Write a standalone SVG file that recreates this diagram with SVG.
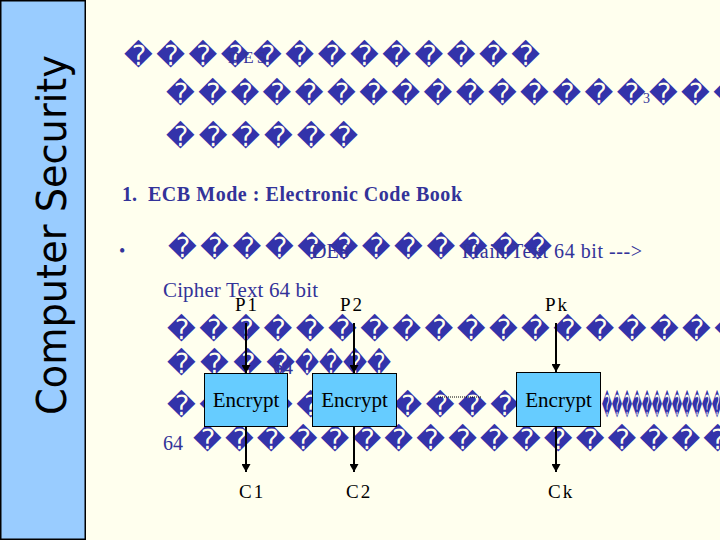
<svg xmlns="http://www.w3.org/2000/svg" width="720" height="540" viewBox="0 0 720 540">
<defs>
<style>
.tofu{font-family:"DejaVu Sans",sans-serif;font-size:28px;fill:#3333AA;dominant-baseline:central}
.lbl{font-family:"Liberation Serif",serif;fill:#333399}
.blk{font-family:"Liberation Serif",serif;fill:#000;font-size:19px;letter-spacing:2px}
.enc rect{fill:#66CCFF;stroke:#000;stroke-width:1}
.enc text{font-family:"Liberation Serif",serif;font-size:21px;fill:#000;text-anchor:middle}
.conn line{stroke:#000;stroke-width:2;marker-end:url(#ah)}
</style>
<marker id="ah" markerUnits="userSpaceOnUse" markerWidth="9" markerHeight="9" refX="8" refY="4.5" orient="auto">
<path d="M0,0 L8,4.5 L0,9 z" fill="#000"/>
</marker>
</defs>
<rect x="0" y="0" width="720" height="540" fill="#FFFFEE"/>
<g id="sidebar">
<rect x="0.75" y="0.75" width="84.5" height="538.5" fill="#99CCFF" stroke="#000" stroke-width="1.5"/>
<text transform="translate(66,235) rotate(-90)" text-anchor="middle" font-family="DejaVu Sans, sans-serif" font-size="40" textLength="360" lengthAdjust="spacingAndGlyphs" fill="#000">Computer Security</text>
</g>
<g id="title">
<text class="tofu" x="124" y="55" textLength="416">�������������</text>
<text class="lbl" x="228" y="63" font-size="17" letter-spacing="3" fill="#333366">DES</text>
<text class="tofu" x="166" y="93" textLength="576">������������������</text>
<text class="lbl" x="643" y="103" font-size="14">3</text>
<text class="tofu" x="166" y="136" textLength="192">������</text>
</g>
<g id="heading">
<text class="lbl" x="122" y="201" font-size="20" font-weight="bold">1.</text>
<text class="lbl" x="148" y="201" font-size="20" font-weight="bold" textLength="314">ECB Mode : Electronic Code Book</text>
</g>
<g id="bullet">
<text class="lbl" x="119" y="257" font-size="18">•</text>
<text class="tofu" x="168" y="247" font-size="26" textLength="384">������������</text>
<text class="lbl" x="312" y="258" font-size="20">DES</text>
<text class="lbl" x="462" y="258" font-size="20" textLength="180">Plain Text 64 bit ---&gt;</text>
<text class="lbl" x="163" y="297" font-size="21" textLength="155">Cipher Text 64 bit</text>
</g>
<g id="labels">
<text class="blk" x="235" y="311">P1</text>
<text class="blk" x="340" y="311">P2</text>
<text class="blk" x="545" y="311">Pk</text>
<text class="blk" x="239" y="498">C1</text>
<text class="blk" x="346" y="498">C2</text>
<text class="blk" x="548" y="498">Ck</text>
</g>
<g id="rows">
<text class="tofu" x="167" y="329" textLength="576">������������������</text>
<text class="tofu" x="167" y="363" textLength="128">����</text>
<text class="tofu" x="295" y="363" textLength="96" lengthAdjust="spacingAndGlyphs">����</text>
<text class="lbl" x="273" y="374" font-size="20">64</text>
<text class="tofu" x="167" y="405" textLength="352">�����������</text>
<text class="tofu" x="602" y="405" textLength="120" lengthAdjust="spacingAndGlyphs">������������</text>
<line x1="438" y1="397" x2="482" y2="397" stroke="#000" stroke-width="1" stroke-dasharray="1 1"/>
<text class="lbl" x="163" y="450" font-size="20">64</text>
<text class="tofu" x="193" y="439" textLength="539">�����������������</text>
</g>
<g id="encrypt1" class="enc">
<rect x="204.5" y="373.5" width="83" height="53"/>
<text x="246" y="407">Encrypt</text>
</g>
<g id="encrypt2" class="enc">
<rect x="312.5" y="373.5" width="84" height="53"/>
<text x="354.5" y="407">Encrypt</text>
</g>
<g id="encrypt3" class="enc">
<rect x="516.5" y="372.5" width="84" height="54"/>
<text x="558.5" y="407">Encrypt</text>
</g>
<g id="connectors" class="conn">
<line x1="246" y1="323" x2="246" y2="373"/>
<line x1="354" y1="323" x2="354" y2="373"/>
<line x1="556" y1="323" x2="556" y2="372"/>
<line x1="246" y1="427" x2="246" y2="472"/>
<line x1="354" y1="427" x2="354" y2="472"/>
<line x1="556" y1="427" x2="556" y2="472"/>
</g>
</svg>
